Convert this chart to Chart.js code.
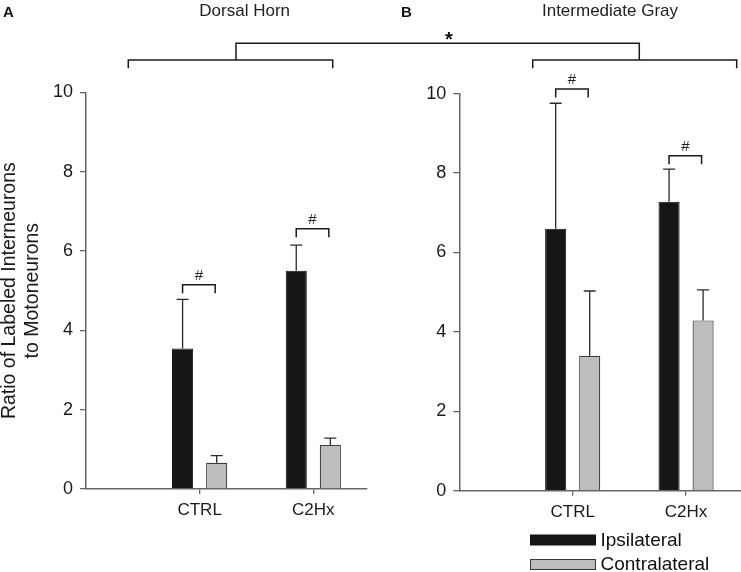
<!DOCTYPE html>
<html>
<head>
<meta charset="utf-8">
<script src="https://cdn.jsdelivr.net/npm/chart.js@4.4.1/dist/chart.umd.min.js"></script>
<style>
  html, body { margin: 0; padding: 0; background: #fff; }
  #wrap { position: relative; width: 741px; height: 572px; font-family: "Liberation Sans", Arial, sans-serif; }
  #dorsal { position: absolute; left: 0; top: 0; }
  #gray { position: absolute; left: 395px; top: 0; }
  #over { position: absolute; left: 0; top: 0; pointer-events: none; }
</style>
</head>
<body>
<div id="wrap">
  <canvas id="dorsal" width="395" height="572" style="width:395px;height:572px"></canvas>
  <canvas id="gray" width="346" height="572" style="width:346px;height:572px"></canvas>
  <svg id="over" width="741" height="572" font-family="Liberation Sans, Arial, sans-serif">
    <text x="3" y="17" font-size="15" font-weight="bold" fill="#111">A</text>
    <text x="244.7" y="15.5" font-size="17" text-anchor="middle" fill="#222">Dorsal Horn</text>
    <text x="401" y="17" font-size="15" font-weight="bold" fill="#111">B</text>
    <text x="610" y="15.5" font-size="17" text-anchor="middle" fill="#222">Intermediate Gray</text>
    <text x="449" y="46" font-size="20" font-weight="bold" text-anchor="middle" fill="#111">*</text>
    <path d="M128.3 68.3 V60 H332.7 V68.3 M236 60 V43.3 H639.3 V60 M532.7 68.3 V60 H736.7 V68.3"
          stroke="#1a1a1a" stroke-width="1.5" fill="none"/>
  </svg>
</div>
<script>
// categories and series
const categories = ['CTRL', 'C2Hx'];
const seriesNames = ['Ipsilateral', 'Contralateral'];
const yTicks = [0, 2, 4, 6, 8, 10];

// A: dorsal horn (mean and upward error)
const dorsalIpsi = [3.54, 5.50];
const dorsalIpsiErr = [1.24, 0.65];
const dorsalContra = [0.66, 1.11];
const dorsalContraErr = [0.18, 0.17];
const dorsalHashAt = [5.15, 6.56];

// B: intermediate gray
const grayIpsi = [6.60, 7.28];
const grayIpsiErr = [3.16, 0.82];
const grayContra = [3.40, 4.29];
const grayContraErr = [1.63, 0.77];
const grayHashAt = [10.12, 8.44];

const FONT = "'Liberation Sans', Arial, sans-serif";
const axisGray = '#666';

// error bars, drawn up from the top of each bar
const errorBars = {
  id: 'errorBars',
  afterDatasetsDraw(chart) {
    const ctx = chart.ctx;
    const y = chart.scales.y;
    ctx.save();
    ctx.strokeStyle = '#2a2a2a';
    ctx.lineWidth = 1.3;
    chart.data.datasets.forEach((ds, i) => {
      const meta = chart.getDatasetMeta(i);
      meta.data.forEach((bar, j) => {
        const top = y.getPixelForValue(ds.data[j].y + ds.err[j]);
        ctx.beginPath();
        ctx.moveTo(bar.x, bar.y);
        ctx.lineTo(bar.x, top);
        ctx.moveTo(bar.x - 6, top);
        ctx.lineTo(bar.x + 6, top);
        ctx.stroke();
      });
    });
    ctx.restore();
  }
};

// # brackets between ipsi and contra bars
const hashMarks = {
  id: 'hashMarks',
  afterDatasetsDraw(chart, args, opts) {
    const ctx = chart.ctx;
    const y = chart.scales.y;
    const a = chart.getDatasetMeta(0).data;
    const b = chart.getDatasetMeta(1).data;
    ctx.save();
    ctx.strokeStyle = '#1a1a1a';
    ctx.lineWidth = 1.5;
    ctx.fillStyle = '#222';
    ctx.font = '15px ' + FONT;
    ctx.textAlign = 'center';
    ctx.textBaseline = 'alphabetic';
    opts.levels.forEach((lv, j) => {
      const py = y.getPixelForValue(lv);
      const x0 = a[j].x, x1 = b[j].x - 1.5;
      ctx.beginPath();
      ctx.moveTo(x0, py + 8.5);
      ctx.lineTo(x0, py);
      ctx.lineTo(x1, py);
      ctx.lineTo(x1, py + 8.5);
      ctx.stroke();
      ctx.fillText('#', (x0 + x1) / 2, py - 5);
    });
    ctx.restore();
  }
};

// legend in two rows, bottom right
const boxLegend = {
  id: 'boxLegend',
  afterDraw(chart, args, opts) {
    if (!opts.show) return;
    const ctx = chart.ctx;
    ctx.save();
    ctx.font = '19px ' + FONT;
    ctx.textBaseline = 'middle';
    chart.data.datasets.forEach((ds, i) => {
      const top = 535 + i * 24.5;
      ctx.fillStyle = ds.backgroundColor;
      ctx.strokeStyle = ds.borderColor;
      ctx.lineWidth = 1;
      ctx.fillRect(135.5, top, 65, 10);
      ctx.strokeRect(135.5, top, 65, 10);
      ctx.fillStyle = '#111';
      ctx.fillText(ds.label, 205.5, top + 5.5);
    });
    ctx.restore();
  }
};

function makeDatasets(ipsi, ipsiErr, contra, contraErr) {
  const pts = arr => arr.map((v, i) => ({ x: i + 1, y: v }));
  return [
    { label: seriesNames[0], data: pts(ipsi), err: ipsiErr,
      backgroundColor: '#161616', borderColor: '#111', borderWidth: 1 },
    { label: seriesNames[1], data: pts(contra), err: contraErr,
      backgroundColor: '#bdbdbd', borderColor: '#3a3a3a', borderWidth: 1.2 }
  ];
}

function makeChart(id, datasets, cfg) {
  return new Chart(document.getElementById(id), {
    type: 'bar',
    data: { datasets },
    plugins: [errorBars, hashMarks, boxLegend],
    options: {
      responsive: false,
      animation: false,
      categoryPercentage: 0.6,
      barPercentage: 0.62,
      layout: { padding: cfg.padding },
      plugins: {
        legend: { display: false },
        tooltip: { enabled: false },
        hashMarks: { levels: cfg.hash },
        boxLegend: { show: cfg.legend }
      },
      scales: {
        x: {
          type: 'linear',
          min: 0,
          max: cfg.xMax,
          offset: false,
          afterBuildTicks: s => { s.ticks = categories.map((c, i) => ({ value: i + 1 })); },
          afterFit: s => { s.height = 30; },
          grid: { offset: false, drawOnChartArea: false, drawTicks: true, tickLength: 5, color: axisGray, lineWidth: 1.3 },
          border: { color: axisGray, width: 1.5 },
          ticks: {
            color: '#1a1a1a',
            padding: 6,
            font: { family: FONT, size: 17 },
            callback: v => categories[v - 1] || ''
          }
        },
        y: {
          min: 0,
          max: 10,
          afterBuildTicks: s => { s.ticks = yTicks.map(v => ({ value: v })); },
          afterFit: s => { s.width = cfg.yWidth; },
          grid: { drawOnChartArea: false, drawTicks: true, tickLength: 6, color: axisGray, lineWidth: 1.3 },
          border: { color: axisGray, width: 1.5 },
          ticks: { color: '#1a1a1a', padding: 7, font: { family: FONT, size: 18 } },
          title: {
            display: cfg.yTitle,
            text: ['Ratio of Labeled Interneurons', 'to Motoneurons'],
            color: '#1a1a1a',
            font: { family: FONT, size: 19.5, lineHeight: 1.2 },
            padding: { top: -2, bottom: 0 }
          }
        }
      }
    }
  });
}

makeChart('dorsal', makeDatasets(dorsalIpsi, dorsalIpsiErr, dorsalContra, dorsalContraErr), {
  padding: { top: 92.3, bottom: 53, left: 0, right: 28.3 },
  yWidth: 86, xMax: 2.47, hash: dorsalHashAt, legend: false, yTitle: true
});

makeChart('gray', makeDatasets(grayIpsi, grayIpsiErr, grayContra, grayContraErr), {
  padding: { top: 93.7, bottom: 51.3, left: 0, right: 0.5 },
  yWidth: 64.3, xMax: 2.48, hash: grayHashAt, legend: true, yTitle: false
});
</script>
</body>
</html>
